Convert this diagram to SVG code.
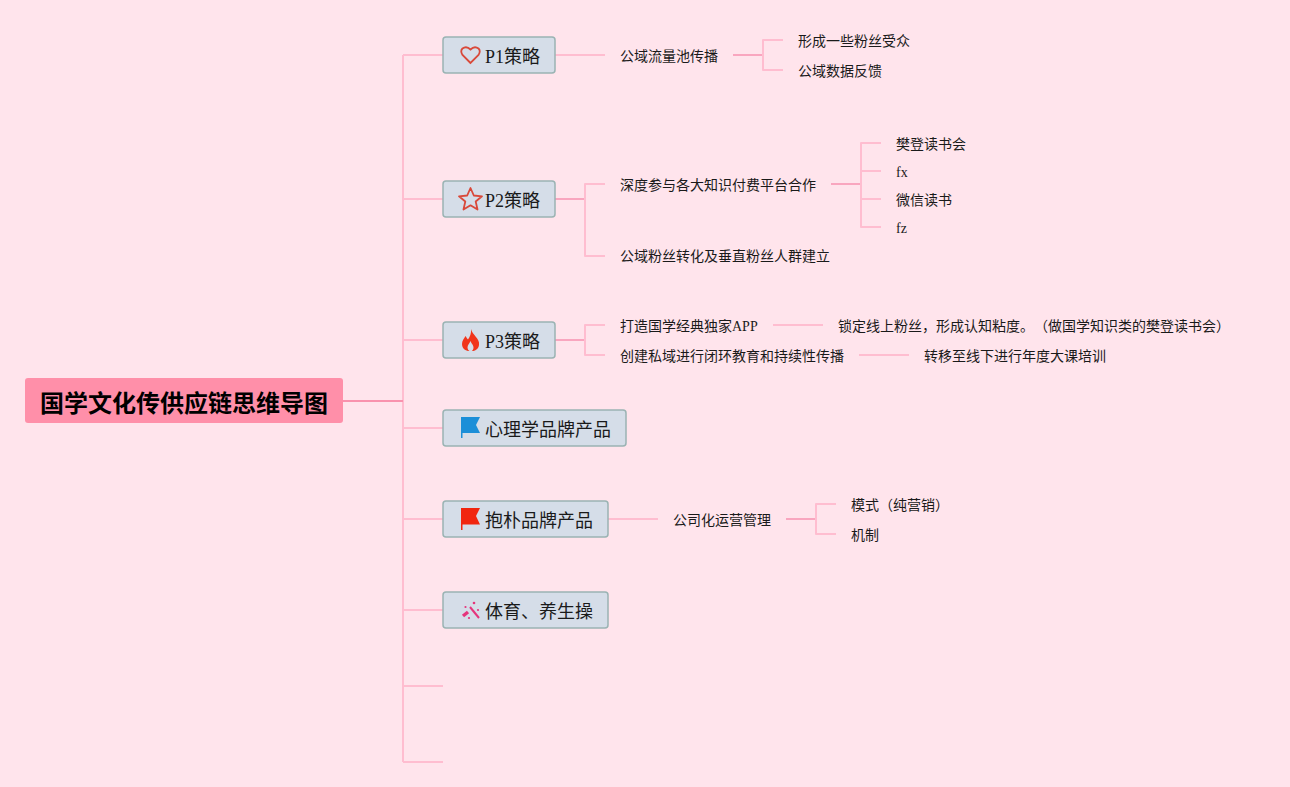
<svg xmlns="http://www.w3.org/2000/svg" width="1290" height="787" viewBox="0 0 1290 787">
<style>
text{font-family:"Liberation Serif","Noto Sans CJK SC",serif;fill:#1a1a1a;text-spacing-trim:space-all}
.c{fill:none;stroke:#ffbdd0;stroke-width:2;stroke-linejoin:round}
.d{fill:none;stroke:#f9a6bf;stroke-width:2}
.b{fill:#d5dde8;stroke:#9ab3b3;stroke-width:1.500}
.t{font-size:18px}
.s{font-size:14px}
</style>
<rect width="1290" height="787" fill="#ffe4ec"/>
<g id="connectors">
<path class="c" d="M403 55V762M403 55H443M403 199H443M403 340H443M403 428H443M403 519H443M403 610H443M403 686H443M403 762H443"/>
<path d="M343 401H403" fill="none" stroke="#f992ae" stroke-width="2"/>
<path class="c" d="M555 55H605"/>
<path class="d" d="M733 55H763"/>
<path class="c" d="M783 40H763V70H783"/>
<path class="d" d="M555 199H585"/>
<path class="c" d="M605 184H585V256H605"/>
<path class="d" d="M831 184H861"/>
<path class="c" d="M881 143H861V227H881M861 171H881M861 199H881"/>
<path class="d" d="M555 340H585"/>
<path class="c" d="M605 325H585V355H605"/>
<path class="c" d="M773 325H823M859 355H909M608 519H658"/>
<path class="d" d="M786 519H816"/>
<path class="c" d="M836 504H816V534H836"/>
</g>
<g id="root"><rect x="25" y="378" width="318" height="45" rx="3" fill="#ff8fa9"/><text x="184" y="412" text-anchor="middle" font-size="24" font-weight="700" style="fill:#000">国学文化传供应链思维导图</text></g>
<g id="p1"><rect class="b" x="443" y="37" width="112" height="36" rx="3"/>
<path d="M470.500 63L462.500 55Q460 51 462.500 48.500Q466.500 45.500 470.500 49.500Q474.500 45.500 478.500 48.500Q481 51 478.500 55Z" fill="none" stroke="#d9493a" stroke-width="1.800"/>
<text class="t" x="485" y="63">P1策略</text></g>
<g id="p2"><rect class="b" x="443" y="181" width="112" height="36" rx="3"/>
<path d="M470.500 188L473.800 195.500 482 196.300 475.700 201.500 477.500 209.500 470.500 205.300 463.500 209.500 465.300 201.500 459 196.300 467.200 195.500Z" fill="none" stroke="#d9493a" stroke-width="1.800" stroke-linejoin="round"/>
<text class="t" x="485" y="207">P2策略</text></g>
<g id="p3"><rect class="b" x="443" y="322" width="112" height="36" rx="3"/>
<path d="M471 329C472 335 480 338 479 345C478.500 349 475 351 472 351C473.500 349.500 474 347.500 473 345.500C472.500 344 471 343 470.500 341C469.500 343.500 467.500 345 467.500 347.500C467.500 349 468.500 350.500 469.500 351C465.500 351 462 348.500 462 344C462 340.500 464 339 465.500 336C466.500 337.500 467 338.500 468 339.500C470 337 471.500 333 471 329Z" fill="#f1351b"/>
<text class="t" x="485" y="348">P3策略</text></g>
<g id="psych"><rect class="b" x="443" y="410" width="183" height="36" rx="3"/>
<path d="M461 417H480L476 425L480 433H462.500V438H461Z" fill="#1b8fd8"/>
<text class="t" x="485" y="436">心理学品牌产品</text></g>
<g id="baopu"><rect class="b" x="443" y="501" width="165" height="36" rx="3"/>
<path d="M461 508H480L476 516L480 524.500H462.500V530H461Z" fill="#f1260f"/>
<text class="t" x="485" y="527">抱朴品牌产品</text></g>
<g id="tiyu"><rect class="b" x="443" y="592" width="165" height="36" rx="3"/>
<path d="M470 607L479 618" stroke="#e5357c" stroke-width="2" fill="none"/>
<path d="M463 616L468 612" stroke="#e5357c" stroke-width="3.500" fill="none"/>
<circle cx="474" cy="603" r="1.300" fill="#e5357c"/><circle cx="478" cy="610" r="1.100" fill="#e5357c"/><circle cx="465.500" cy="607" r="1.100" fill="#e5357c"/><circle cx="469" cy="618" r="1.100" fill="#e5357c"/>
<text class="t" x="485" y="618">体育、养生操</text></g>
<g id="n1"><text class="s" x="620" y="61">公域流量池传播</text></g>
<g id="n2"><text class="s" x="798" y="46">形成一些粉丝受众</text></g>
<g id="n3"><text class="s" x="798" y="76">公域数据反馈</text></g>
<g id="n4"><text class="s" x="620" y="190">深度参与各大知识付费平台合作</text></g>
<g id="n5"><text class="s" x="896" y="149">樊登读书会</text></g>
<g id="n6"><text class="s" x="896" y="177">fx</text></g>
<g id="n7"><text class="s" x="896" y="205">微信读书</text></g>
<g id="n8"><text class="s" x="896" y="233">fz</text></g>
<g id="n9"><text class="s" x="620" y="261">公域粉丝转化及垂直粉丝人群建立</text></g>
<g id="n10"><text class="s" x="620" y="331">打造国学经典独家APP</text></g>
<g id="n11"><text class="s" x="838" y="331">锁定线上粉丝，形成认知粘度。（做国学知识类的樊登读书会）</text></g>
<g id="n12"><text class="s" x="620" y="361">创建私域进行闭环教育和持续性传播</text></g>
<g id="n13"><text class="s" x="924" y="361">转移至线下进行年度大课培训</text></g>
<g id="n14"><text class="s" x="673" y="525">公司化运营管理</text></g>
<g id="n15"><text class="s" x="851" y="510">模式（纯营销）</text></g>
<g id="n16"><text class="s" x="851" y="540">机制</text></g>
</svg>
